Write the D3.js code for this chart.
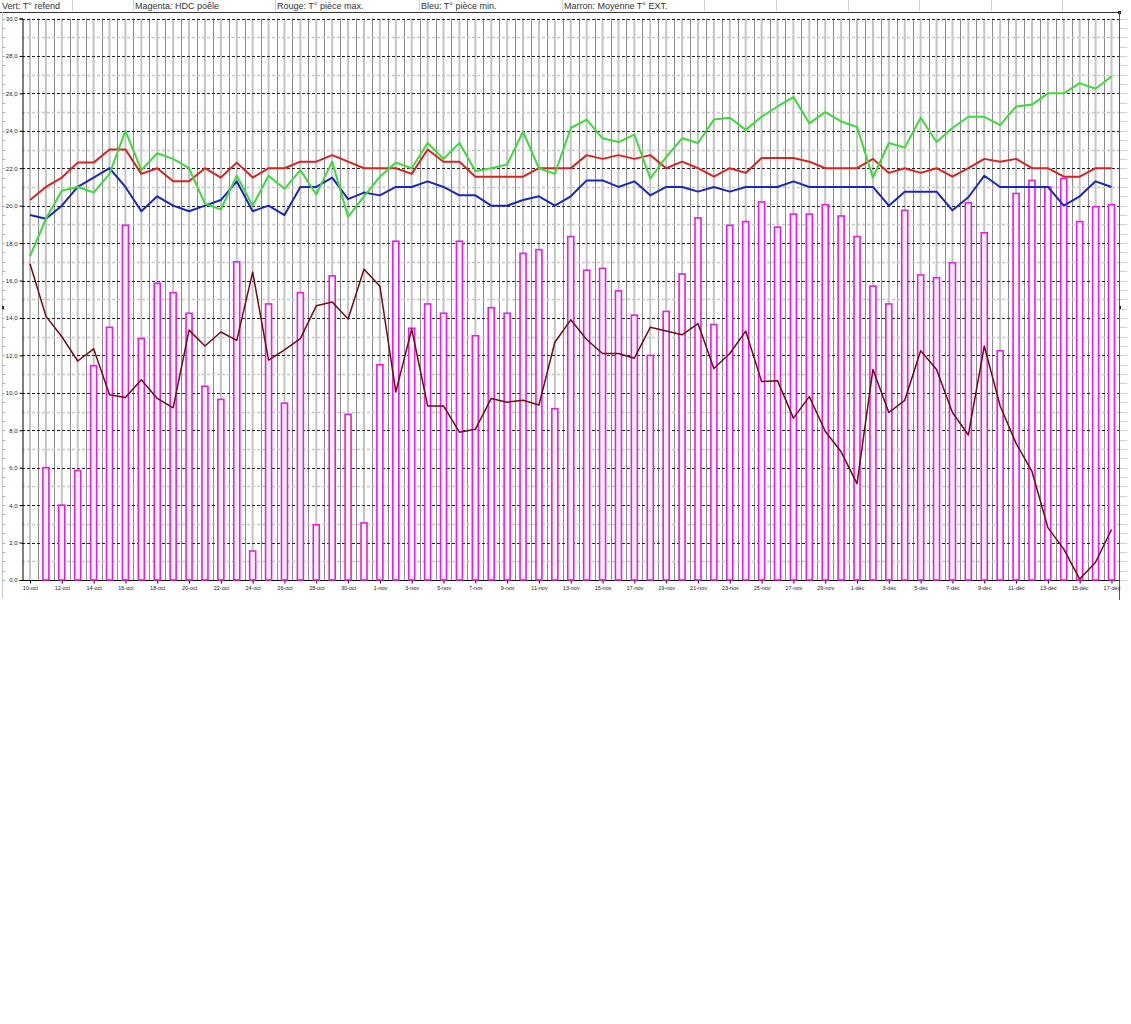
<!DOCTYPE html>
<html>
<head>
<meta charset="utf-8">
<script src="https://cdn.jsdelivr.net/npm/d3@7"></script>
<style>
  body { margin: 0; background: #fff; }
  svg { display: block; font-family: "Liberation Sans", Arial, sans-serif; }
</style>
</head>
<body>
<div id="chart"></div>
<script>
// Legend cells of the header row
const legendLabels = ["Vert: T° refend", "Magenta: HDC poêle", "Rouge: T° pièce max.", "Bleu: T° pièce min.", "Marron: Moyenne T° EXT."];

// Days from 10-oct to 17-déc
const monthNames = { 9: "oct", 10: "nov", 11: "déc" };
const days = d3.timeDay.range(new Date(2011, 9, 10), new Date(2011, 11, 18))
    .map(d => `${d.getDate()}-${monthNames[d.getMonth()]}`);

// Vert: T° refend
const refend = [17.3, 19.3, 20.8, 21.0, 20.7, 21.7, 24.0, 21.9, 22.8, 22.5, 22.0, 20.1, 19.8, 21.6, 20.0, 21.6, 20.9,
    21.9, 20.6, 22.35, 19.4, 20.5, 21.55, 22.3, 22.0, 23.35, 22.5, 23.35, 21.85, 22.0, 22.2, 23.95, 22.0, 21.7,
    24.15, 24.6, 23.6, 23.4, 23.8, 21.45, 22.6, 23.6, 23.35, 24.6, 24.7, 24.05, 24.75, 25.3, 25.8, 24.4, 25.0, 24.5,
    24.2, 21.5, 23.35, 23.1, 24.7, 23.4, 24.15, 24.75, 24.75, 24.3, 25.3, 25.4, 26.0, 26.0, 26.55, 26.25, 26.9];

// Magenta: HDC poêle
const hdc = [0, 6.0, 4.0, 5.85, 11.45, 13.5, 18.95, 12.9, 15.85, 15.35, 14.25, 10.35, 9.65, 17.0, 1.55, 14.75, 9.45,
    15.35, 2.95, 16.25, 8.85, 3.05, 11.5, 18.1, 13.45, 14.75, 14.25, 18.1, 13.05, 14.55, 14.25, 17.45, 17.65, 9.15,
    18.35, 16.55, 16.65, 15.45, 14.15, 12.0, 14.35, 16.35, 19.35, 13.65, 18.95, 19.15, 20.2, 18.85, 19.55, 19.55, 20.05, 19.45,
    18.35, 15.7, 14.75, 19.75, 16.3, 16.15, 16.95, 20.15, 18.55, 12.25, 20.65, 21.35, 21.0, 21.45, 19.15, 19.95, 20.05];

// Rouge: T° pièce max.
const pieceMax = [20.3, 21.0, 21.5, 22.3, 22.3, 23.0, 23.0, 21.7, 22.0, 21.3, 21.3, 22.0, 21.5, 22.3, 21.5, 22.0, 22.0,
    22.35, 22.35, 22.7, 22.35, 22.0, 22.0, 22.0, 21.7, 23.0, 22.35, 22.35, 21.55, 21.55, 21.55, 21.55, 22.0, 22.0,
    22.0, 22.7, 22.5, 22.7, 22.5, 22.7, 22.0, 22.35, 22.0, 21.55, 22.0, 21.75, 22.55, 22.55, 22.55, 22.35, 22.0, 22.0,
    22.0, 22.5, 21.75, 22.0, 21.75, 22.0, 21.55, 22.0, 22.5, 22.35, 22.5, 22.0, 22.0, 21.55, 21.55, 22.0, 22.0];

// Bleu: T° pièce min.
const pieceMin = [19.5, 19.3, 20.0, 21.0, 21.5, 22.0, 21.0, 19.7, 20.5, 20.0, 19.7, 20.0, 20.3, 21.3, 19.7, 20.0, 19.5,
    21.0, 21.0, 21.5, 20.35, 20.7, 20.55, 21.0, 21.0, 21.3, 21.0, 20.55, 20.55, 20.0, 20.0, 20.3, 20.5, 20.0,
    20.5, 21.35, 21.35, 21.0, 21.3, 20.55, 21.0, 21.0, 20.75, 21.0, 20.75, 21.0, 21.0, 21.0, 21.3, 21.0, 21.0, 21.0,
    21.0, 21.0, 20.0, 20.75, 20.75, 20.75, 19.75, 20.45, 21.6, 21.0, 21.0, 21.0, 21.0, 20.0, 20.5, 21.3, 21.0];

// Marron: Moyenne T° EXT.
const moyExt = [16.9, 14.1, 13.0, 11.7, 12.35, 9.9, 9.75, 10.7, 9.7, 9.2, 13.35, 12.5, 13.25, 12.8, 16.45, 11.75, 12.3,
    12.9, 14.65, 14.85, 13.95, 16.6, 15.7, 10.05, 13.4, 9.3, 9.3, 7.9, 8.05, 9.7, 9.5, 9.6, 9.35, 12.7,
    13.9, 12.85, 12.1, 12.1, 11.85, 13.5, 13.3, 13.1, 13.7, 11.3, 12.1, 13.3, 10.6, 10.65, 8.65, 9.8, 7.95, 6.85,
    5.15, 11.25, 8.95, 9.6, 12.25, 11.25, 8.95, 7.75, 12.5, 9.3, 7.3, 5.8, 2.8, 1.65, 0.05, 0.95, 2.7];

const width = 1131, height = 1024;
const plot = { left: 22, right: 1119, top: 18.5, bottom: 580 };

const svg = d3.select("#chart").append("svg")
    .attr("width", width)
    .attr("height", height)
    .attr("viewBox", [0, 0, width, height]);

// Scales: one step per day, temperature 0..30
const x = d3.scalePoint()
    .domain(days)
    .range([30, 1111.5]);

const y = d3.scaleLinear()
    .domain([0, 30])
    .range([plot.bottom, plot.top]);

// Header row with legend cells
const header = svg.append("g");
[72, 133, 275, 419, 562, 704, 776, 848, 919, 991, 1062].forEach(sx => {
    header.append("line")
        .attr("x1", sx + 0.5).attr("x2", sx + 0.5)
        .attr("y1", 0).attr("y2", 11)
        .attr("stroke", "#d0d0d0");
});
const legendX = [2, 135, 277, 421, 564];
header.selectAll("text")
    .data(legendLabels)
    .join("text")
    .attr("x", (d, i) => legendX[i])
    .attr("y", 8.5)
    .attr("font-size", 9)
    .attr("fill", "#333")
    .text(d => d);
header.append("line")
    .attr("x1", 0).attr("x2", plot.right)
    .attr("y1", 12.5).attr("y2", 12.5)
    .attr("stroke", "#333");
header.append("rect")
    .attr("x", plot.right - 1).attr("y", 11).attr("width", 3).attr("height", 3)
    .attr("fill", "#222");

// Outer frame ticks on the left and right edges
const halfSteps = d3.range(0, 30.01, 0.5);
svg.append("line")
    .attr("x1", 2.5).attr("x2", 2.5).attr("y1", 12).attr("y2", 598)
    .attr("stroke", "#c8c8c8");
svg.append("g").selectAll("line")
    .data(halfSteps)
    .join("line")
    .attr("x1", 2).attr("x2", 5)
    .attr("y1", d => Math.round(y(d)) + 0.5).attr("y2", d => Math.round(y(d)) + 0.5)
    .attr("stroke", "#b0b0b0");
svg.append("line")
    .attr("x1", plot.right + 0.5).attr("x2", plot.right + 0.5).attr("y1", 12).attr("y2", 600)
    .attr("stroke", "#555");
svg.append("g").selectAll("line")
    .data(halfSteps)
    .join("line")
    .attr("x1", plot.right + 1).attr("x2", plot.right + 8)
    .attr("y1", d => Math.round(y(d)) + 0.5).attr("y2", d => Math.round(y(d)) + 0.5)
    .attr("stroke", "#d0d0d0");
svg.append("rect").attr("x", plot.right).attr("y", 306).attr("width", 2).attr("height", 3).attr("fill", "#222");
svg.append("rect").attr("x", 2).attr("y", 306).attr("width", 2).attr("height", 3).attr("fill", "#222");

// Vertical grid: light lines on days, darker lines between days
const grid = svg.append("g");
const step = x.step();
grid.selectAll("line.day")
    .data(days)
    .join("line")
    .attr("class", "day")
    .attr("x1", d => x(d)).attr("x2", d => x(d))
    .attr("y1", plot.top).attr("y2", plot.bottom)
    .attr("stroke", "#c4c4c4")
    .attr("stroke-width", 2);
grid.selectAll("line.mid")
    .data(days.slice(0, -1))
    .join("line")
    .attr("class", "mid")
    .attr("x1", d => Math.round(x(d) + step / 2) + 0.5).attr("x2", d => Math.round(x(d) + step / 2) + 0.5)
    .attr("y1", plot.top).attr("y2", plot.bottom)
    .attr("stroke", "#8a8a8a")
    .attr("stroke-width", 1);

// Horizontal grid: dark dashed every 2, light dashed in between
grid.selectAll("line.h")
    .data(d3.range(1, 31))
    .join("line")
    .attr("class", "h")
    .attr("x1", plot.left).attr("x2", plot.right)
    .attr("y1", d => Math.round(y(d)) + 0.5).attr("y2", d => Math.round(y(d)) + 0.5)
    .attr("stroke", d => d % 2 === 0 ? "#222" : "#c8c8c8")
    .attr("stroke-width", d => d % 2 === 0 ? 1 : 1.5)
    .attr("stroke-dasharray", "3,2");

// Y axis
svg.append("g")
    .attr("transform", `translate(${plot.left + 0.5},0)`)
    .call(d3.axisLeft(y)
        .tickValues(d3.range(0, 31, 2))
        .tickSize(3)
        .tickFormat(d => d3.format(".1f")(d).replace(".", ",")))
    .call(g => g.select(".domain").attr("stroke", "#000"))
    .call(g => g.selectAll("text")
        .attr("font-size", 6)
        .attr("font-family", "Liberation Sans, Arial, sans-serif")
        .attr("fill", "#222")
        .attr("x", -5));

// X axis
svg.append("g")
    .attr("transform", `translate(0,${plot.bottom + 0.5})`)
    .call(d3.axisBottom(x)
        .tickValues(days.filter((d, i) => i % 2 === 0))
        .tickSize(3)
        .tickSizeOuter(0))
    .call(g => g.select(".domain").attr("d", `M${plot.left},0H${plot.right}`).attr("stroke", "#000"))
    .call(g => g.selectAll("text")
        .attr("font-size", 5.5)
        .attr("font-family", "Liberation Sans, Arial, sans-serif")
        .attr("fill", "#222")
        .attr("y", 6));

// Bars: HDC poêle
const barW = 6;
svg.append("g")
    .selectAll("rect")
    .data(hdc.map((v, i) => ({ day: days[i], v })).filter(d => d.v > 0))
    .join("rect")
    .attr("x", d => x(d.day) - barW / 2)
    .attr("y", d => y(d.v))
    .attr("width", barW)
    .attr("height", d => y(0) - y(d.v))
    .attr("fill", "#fff2ff")
    .attr("stroke", "#e21fe2")
    .attr("stroke-width", 1.6);

// Lines
const line = d3.line()
    .x((d, i) => x(days[i]))
    .y(d => y(d));

const series = [
    { values: moyExt, color: "#6e0d12", width: 1.5 },
    { values: pieceMin, color: "#1c27b5", width: 2 },
    { values: pieceMax, color: "#d42424", width: 2 },
    { values: refend, color: "#3fd83f", width: 2 }
];

svg.append("g")
    .selectAll("path")
    .data(series)
    .join("path")
    .attr("fill", "none")
    .attr("stroke", d => d.color)
    .attr("stroke-width", d => d.width)
    .attr("stroke-linejoin", "round")
    .attr("d", d => line(d.values));
</script>
</body>
</html>
